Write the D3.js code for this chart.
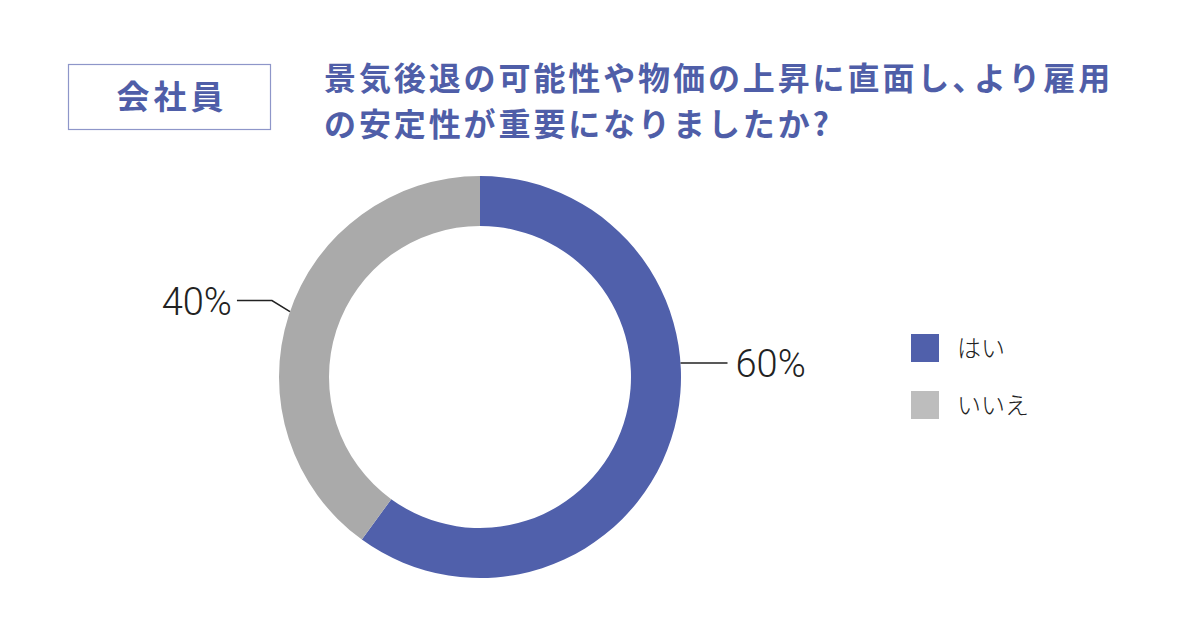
<!DOCTYPE html>
<html>
<head>
<meta charset="utf-8">
<script src="https://cdn.jsdelivr.net/npm/d3@7"></script>
<style>
  html, body { margin: 0; padding: 0; background: #fff; }
  svg { display: block; }
</style>
</head>
<body>
<div id="chart"></div>
<script>
// data
const categories = ['はい', 'いいえ'];
const values = [60, 40];
const sliceColors = ['#5060ab', '#aaaaaa'];
const legendColors = ['#5060ab', '#bdbdbd'];
const badgeText = '会社員';
const titleLines = ['景気後退の可能性や物価の上昇に直面し、より雇用', 'の安定性が重要になりましたか?'];

const W = 1201, H = 628;
const CX = 480, CY = 377, R_OUT = 201, R_IN = 151;
const BLUE = '#4f5ea8';
const JP = '"Noto Sans CJK JP", "Noto Sans", sans-serif';

// where each leader line leaves the ring (degrees, clockwise from 12 o'clock)
const LABEL_LAYOUT = [
	{ angle: 86, elbow: 0, run: 47, side: 1 },
	{ angle: 289, elbow: 20, run: 35, side: -1 }
];

const svg = d3.select('#chart').append('svg')
	.attr('width', W).attr('height', H);

// badge
svg.append('rect')
	.attr('x', 68.5).attr('y', 64.5)
	.attr('width', 202).attr('height', 65)
	.attr('fill', 'none')
	.attr('stroke', '#8e96c9')
	.attr('stroke-width', 1.2);
svg.append('text')
	.attr('x', 172).attr('y', 109)
	.attr('text-anchor', 'middle')
	.attr('font-family', JP)
	.attr('font-weight', 600)
	.attr('font-size', 33)
	.attr('letter-spacing', 4)
	.attr('fill', BLUE)
	.text(badgeText);

// title: the comma is set half-width like the original typesetting
const title = svg.append('g');
titleLines.forEach((line, i) => {
	const t = title.append('text')
		.attr('x', 324)
		.attr('y', 90 + i * 46)
		.attr('font-family', JP)
		.attr('font-weight', 600)
		.attr('font-size', 32)
		.attr('letter-spacing', 2.9)
		.attr('fill', BLUE);
	line.split('、').forEach((part, j, all) => {
		t.append('tspan')
			.attr('dx', j > 0 ? -13 : 0)
			.text(part + (j < all.length - 1 ? '、' : ''));
	});
});

// donut
const pie = d3.pie().sort(null).value(d => d);
const arcs = pie(values);
const arc = d3.arc().innerRadius(R_IN).outerRadius(R_OUT);

const g = svg.append('g').attr('transform', `translate(${CX},${CY})`);
g.selectAll('path')
	.data(arcs)
	.enter()
	.append('path')
	.attr('d', arc)
	.attr('fill', (d, i) => sliceColors[i]);

// leader lines + percentages
const rad = a => a * Math.PI / 180;
arcs.forEach((d, i) => {
	const L = LABEL_LAYOUT[i];
	const a = rad(L.angle);
	const p0 = [Math.sin(a) * R_OUT, -Math.cos(a) * R_OUT];
	const p1 = L.elbow ? [p0[0] + L.side * L.elbow * 0.9, p0[1] - L.elbow * 0.55] : p0;
	const p2 = [p1[0] + L.side * L.run, p1[1]];
	g.append('path')
		.attr('d', d3.line()([p0, p1, p2]))
		.attr('fill', 'none')
		.attr('stroke', '#222')
		.attr('stroke-width', 1.5);
	g.append('text')
		.attr('x', p2[0] + L.side * (L.side > 0 ? 8 : 5))
		.attr('y', p2[1] + 14)
		.attr('text-anchor', L.side > 0 ? 'start' : 'end')
		.attr('font-family', 'Roboto, "Liberation Sans", sans-serif')
		.attr('font-weight', 300)
		.attr('font-size', 38)
		.attr('fill', '#222')
		.text(d.data + '%');
});

// legend
const legend = svg.append('g').attr('transform', 'translate(911,334)');
const item = legend.selectAll('g')
	.data(categories)
	.enter()
	.append('g')
	.attr('transform', (d, i) => `translate(0,${i * 57})`);
item.append('rect')
	.attr('width', 28).attr('height', 28)
	.attr('fill', (d, i) => legendColors[i]);
item.append('text')
	.attr('x', 46).attr('y', 23)
	.attr('font-family', JP)
	.attr('font-weight', 300)
	.attr('font-size', 24)
	.attr('fill', '#222')
	.text(d => d);
</script>
</body>
</html>
